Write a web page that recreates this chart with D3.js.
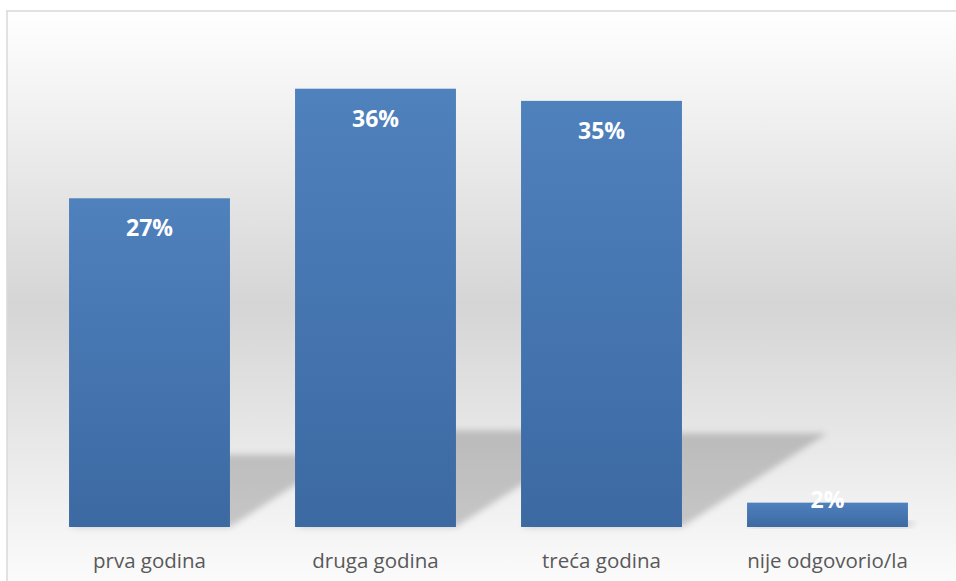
<!DOCTYPE html>
<html>
<head>
<meta charset="utf-8">
<script src="https://cdn.jsdelivr.net/npm/d3@7"></script>
<style>
  body { margin: 0; background: #fff; }
  svg { display: block; }
</style>
</head>
<body>
<svg id="chart" width="956" height="581"></svg>
<script>
// podaci
const categories = ["prva godina", "druga godina", "treća godina", "nije odgovorio/la"];
const values = [27, 36, 35, 2];
const valueLabels = ["27%", "36%", "35%", "2%"];

const W = 956, H = 581;
const svg = d3.select("#chart");
const defs = svg.append("defs");

// pozadina: svijetlo -> sivo -> svijetlo
const bg = defs.append("linearGradient").attr("id", "bg").attr("x1", 0).attr("y1", 0).attr("x2", 0).attr("y2", 1);
bg.append("stop").attr("offset", "0%").attr("stop-color", "#ffffff");
bg.append("stop").attr("offset", "50%").attr("stop-color", "#d5d5d5");
bg.append("stop").attr("offset", "100%").attr("stop-color", "#fefefe");

const barGrad = defs.append("linearGradient").attr("id", "barGrad").attr("x1", 0).attr("y1", 0).attr("x2", 0).attr("y2", 1);
barGrad.append("stop").attr("offset", "0%").attr("stop-color", "#4f81bd");
barGrad.append("stop").attr("offset", "100%").attr("stop-color", "#3c69a2");

defs.append("filter").attr("id", "blur")
    .attr("x", "-20%").attr("y", "-20%").attr("width", "140%").attr("height", "140%")
  .append("feGaussianBlur").attr("stdDeviation", 3);

svg.append("rect")
    .attr("x", 7).attr("y", 11)
    .attr("width", W + 10).attr("height", H + 10)
    .attr("fill", "url(#bg)")
    .attr("stroke", "#d9d9d9")
    .attr("stroke-width", 1.5);

const baseY = 527;
const x = d3.scaleBand()
    .domain(categories)
    .range([36.5, 940.5])
    .paddingInner(0.288)
    .paddingOuter(0.144);
const y = d3.scaleLinear().domain([0, 40]).range([baseY, 40]);

const data = categories.map((c, i) => ({ cat: c, value: values[i], label: valueLabels[i] }));

// perspektivna sjena iza stupaca
const shH = 0.22, shSkew = 1.55;
svg.append("g")
    .selectAll("path")
    .data(data)
    .join("path")
    .attr("d", d => {
        const h = (baseY - y(d.value)) * shH;
        const x0 = x(d.cat), x1 = x0 + x.bandwidth();
        const dx = h * shSkew;
        return `M${x0},${baseY} L${x1},${baseY} L${x1 + dx},${baseY - h} L${x0 + dx},${baseY - h} Z`;
    })
    .attr("fill", "#000")
    .attr("fill-opacity", 0.19)
    .attr("filter", "url(#blur)");

svg.append("g")
    .selectAll("rect")
    .data(data)
    .join("rect")
    .attr("x", d => x(d.cat))
    .attr("y", d => y(d.value))
    .attr("width", x.bandwidth())
    .attr("height", d => baseY - y(d.value))
    .attr("fill", "url(#barGrad)");

svg.append("g")
    .selectAll("text")
    .data(data)
    .join("text")
    .attr("x", d => x(d.cat) + x.bandwidth() / 2)
    .attr("y", d => Math.min(y(d.value) + 38, baseY - 19))
    .attr("text-anchor", "middle")
    .attr("font-family", "'Open Sans', sans-serif")
    .attr("font-weight", "bold")
    .attr("font-size", 23)
    .attr("fill", "#fff")
    .text(d => d.label);

// os x
const xAxis = svg.append("g")
    .attr("transform", `translate(0,${baseY})`)
    .call(d3.axisBottom(x).tickSize(0).tickPadding(26));
xAxis.select(".domain").remove();
xAxis.selectAll("text")
    .attr("font-family", "'Open Sans', sans-serif")
    .attr("font-size", 20.5)
    .attr("fill", "#595959");
</script>
</body>
</html>
